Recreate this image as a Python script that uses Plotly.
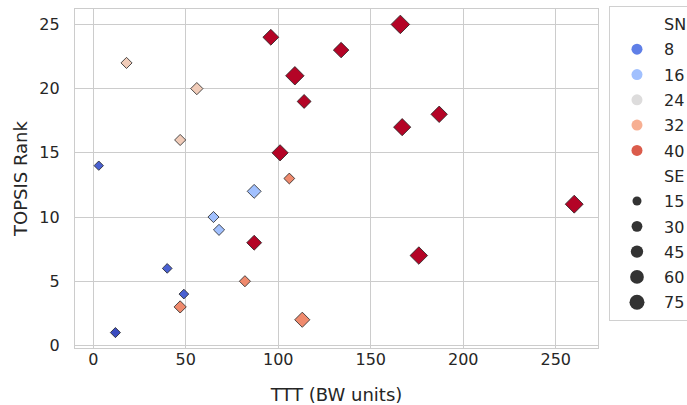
import numpy as np
import plotly.graph_objects as go
from plotly.colors import sample_colorscale

# ---- data ----
ttt = [3, 12, 40, 49, 47, 65, 68, 87, 87, 82, 106, 113, 18, 56, 47,
       96, 101, 109, 114, 134, 166, 167, 187, 260, 176]
rank = [14, 1, 6, 4, 3, 10, 9, 12, 8, 5, 13, 2, 22, 20, 16,
        24, 15, 21, 19, 23, 25, 17, 18, 11, 7]
sn = [5, 3, 5, 5, 36, 16, 16, 16, 45, 36, 36, 36, 28, 28, 28,
      45, 45, 45, 45, 45, 45, 45, 45, 45, 45]
se = [8, 12, 10, 10, 25, 18, 18, 37, 45, 18, 16, 47, 18, 25, 18,
      53, 56, 77, 37, 50, 78, 65, 58, 72, 68]

sn_legend = [8, 16, 24, 32, 40]
se_legend = [15, 30, 45, 60, 75]
x_ticks = [0, 50, 100, 150, 200, 250]
y_ticks = [0, 5, 10, 15, 20, 25]

coolwarm_hex = ["#3b4cc0", "#5977e3", "#7b9ff9", "#9ebeff", "#c0d4f5", "#dddcdc",
                "#f2cbb7", "#f7ac8e", "#ee8468", "#d65244", "#b40426"]
coolwarm = [[i / (len(coolwarm_hex) - 1), c] for i, c in enumerate(coolwarm_hex)]

sn_min, sn_max = min(sn), max(sn)


def circle_diam(v):
    return np.sqrt(45 + 2.4 * np.asarray(v, dtype=float))


diamond_sizes = (1.27 * circle_diam(se) - 0.8) / 1.3

FONT = "DejaVu Sans"
TXT = "#262626"
GRID = "#cccccc"

fig = go.Figure()

fig.add_trace(go.Scatter(
    x=ttt, y=rank, mode="markers", showlegend=False,
    marker=dict(symbol="diamond", size=diamond_sizes, color=sn, opacity=1,
                colorscale=coolwarm, cmin=sn_min, cmax=sn_max,
                line=dict(color="#222222", width=0.8)),
))

# legend: SN header + entries
fig.add_trace(go.Scatter(x=[None], y=[None], mode="markers", name="SN",
                         legendgroup="g0",
                         marker=dict(size=1, color="rgba(0,0,0,0)")))
cols = sample_colorscale(coolwarm, [(v - sn_min) / (sn_max - sn_min) for v in sn_legend])
for i, (v, c) in enumerate(zip(sn_legend, cols)):
    fig.add_trace(go.Scatter(x=[None], y=[None], mode="markers", name=str(v),
                             legendgroup=f"a{i}",
                             marker=dict(symbol="circle", size=11, color=c,
                                         line=dict(width=0))))
fig.add_trace(go.Scatter(x=[None], y=[None], mode="markers", name="SE",
                         legendgroup="g1",
                         marker=dict(size=1, color="rgba(0,0,0,0)")))
for i, v in enumerate(se_legend):
    fig.add_trace(go.Scatter(x=[None], y=[None], mode="markers", name=str(v),
                             legendgroup=f"b{i}",
                             marker=dict(symbol="circle", size=float(circle_diam(v)),
                                         color="#333333", line=dict(width=0))))

rx = max(ttt) - min(ttt)
ry = max(rank) - min(rank)
fig.update_layout(
    width=687, height=405,
    margin=dict(l=75, r=89, t=9, b=57, autoexpand=False),
    paper_bgcolor="white", plot_bgcolor="white",
    font=dict(family=FONT, color=TXT, size=16),
    xaxis=dict(range=[min(ttt) - 0.05 * rx, max(ttt) + 0.05 * rx], automargin=False,
               tickvals=x_ticks, showgrid=True, gridcolor=GRID, gridwidth=1.2,
               zeroline=False, showline=True, linecolor=GRID, linewidth=1.2, mirror=True,
               ticks="", tickfont=dict(size=16, color=TXT), ticklabelstandoff=-3,
               title=dict(text="TTT (BW units)", font=dict(size=18, color=TXT), standoff=20)),
    yaxis=dict(range=[min(rank) - 0.05 * ry, max(rank) + 0.05 * ry], automargin=False,
               tickvals=y_ticks, showgrid=True, gridcolor=GRID, gridwidth=1.2,
               zeroline=False, showline=True, linecolor=GRID, linewidth=1.2, mirror=True,
               ticks="", tickfont=dict(size=16, color=TXT), ticklabelstandoff=11,
               title=dict(text="TOPSIS Rank", font=dict(size=18, color=TXT), standoff=7)),
    legend=dict(x=1.021, y=0.0796, xanchor="left", yanchor="bottom",
                bgcolor="white", bordercolor="#d0d0d0", borderwidth=1,
                font=dict(family=FONT, size=16, color=TXT),
                traceorder="grouped", tracegroupgap=1.5, itemwidth=44),
)

fig.write_html("out.html", config={"displayModeBar": False},
               post_script="document.body.style.margin='0';")
